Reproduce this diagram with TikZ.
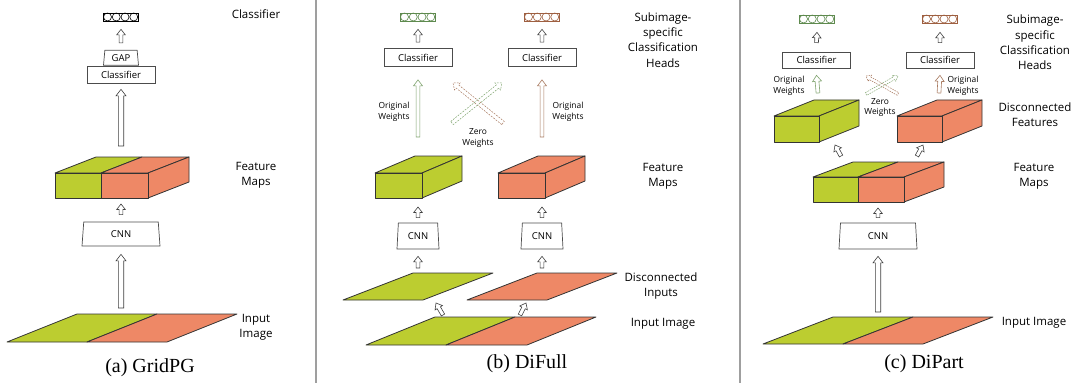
\documentclass[tikz,border=0pt]{standalone}
\usepackage{fontspec}
\setmainfont{Open Sans}
\newfontfamily\capfont{Liberation Serif}
\usetikzlibrary{calc,shapes.geometric}

\definecolor{gridgreen}{HTML}{BCCD30}
\definecolor{gridorange}{HTML}{EE8866}
\definecolor{edge}{HTML}{333333}
\definecolor{headgreen}{HTML}{5E8A4E}
\definecolor{headbrown}{HTML}{9E5F40}
\definecolor{wgreen}{HTML}{7FA36E}
\definecolor{wbrown}{HTML}{A87A60}

\begin{document}
\begin{tikzpicture}[
        x=1pt,   % 1 unit = 1 pixel of the figure
        y=-1pt,  % y grows downwards
        lbl/.style={align=center, inner sep=0pt, font=\fontsize{11.5}{15.3}\selectfont},
        wlbl/.style={align=center, inner sep=0pt, font=\fontsize{8.4}{10.8}\selectfont},
        captext/.style={inner sep=0pt, font=\capfont\fontsize{20}{24}\selectfont},
        clsbox/.style={draw=black!70, line width=0.7pt, minimum width=68pt, minimum height=18pt, inner sep=0pt, font=\fontsize{9.5}{11}\selectfont},
        cnnbox/.style={trapezium, trapezium stretches body=true, draw=black!70, line width=0.7pt, inner sep=0pt, font=\fontsize{9.5}{11}\selectfont},
        vec/.style={draw=#1, line width=0.7pt, minimum width=35pt, minimum height=8pt, inner sep=0pt},
        face/.style={draw=edge, line width=0.8pt, line join=round},
        harrow/.style n args={3}{fill=white, line join=miter,
            to path={let \p1=(\tikztostart), \p2=(\tikztotarget),
                \n1={atan2(\y2-\y1,\x2-\x1)}, \n2={veclen(\x2-\x1,\y2-\y1)} in
                ([shift={(\p1)},rotate=\n1]0pt,#1pt)
                -- ([shift={(\p1)},rotate=\n1]\n2-#3pt,#1pt)
                -- ([shift={(\p1)},rotate=\n1]\n2-#3pt,#2pt)
                -- (\p2)
                -- ([shift={(\p1)},rotate=\n1]\n2-#3pt,-#2pt)
                -- ([shift={(\p1)},rotate=\n1]\n2-#3pt,-#1pt)
                -- ([shift={(\p1)},rotate=\n1]0pt,-#1pt) -- cycle}},
        up/.style={harrow={1.9}{4.3}{5.5}, draw=black!75, line width=0.6pt},
        uplong/.style={harrow={2.7}{5}{6.5}, draw=black!75, line width=0.6pt},
        weights/.style={harrow={1.9}{4.5}{6}, line width=0.6pt},
        zero/.style={harrow={2}{4.5}{5.5}, fill=none, dash pattern=on 1.8pt off 1.2pt, line width=0.5pt},
        zerosmall/.style={harrow={1.5}{3.5}{4.5}, fill=none, dash pattern=on 1.5pt off 1pt, line width=0.5pt},
    ]

    \useasboundingbox (0,0) rectangle (1076,385);

    % Panel separators
    \draw[gray!75, line width=1.2pt] (316,0) -- (316,383);
    \draw[gray!75, line width=1.2pt] (740,0) -- (740,383);

    % ================= (a) GridPG =================
    % Input image
    \filldraw[face, fill=gridgreen] (7,342) -- (87,342) -- (157,314) -- (77,314) -- cycle;
    \filldraw[face, fill=gridorange] (87,342) -- (167,342) -- (237,314) -- (157,314) -- cycle;
    \coordinate (inA) at (121,314);

    % Feature maps
    \filldraw[face, fill=gridgreen] (55,173) -- (96,157) -- (142,157) -- (101,173) -- cycle;
    \filldraw[face, fill=gridorange] (101,173) -- (142,157) -- (189,157) -- (148,173) -- cycle;
    \filldraw[face, fill=gridorange] (148,173) -- (189,157) -- (189,182) -- (148,198) -- cycle;
    \filldraw[face, fill=gridgreen] (55,173) rectangle (101,198);
    \filldraw[face, fill=gridorange] (101,173) rectangle (148,198);
    \coordinate (fmA-top) at (121,157);
    \coordinate (fmA-bot) at (121,198);

    % Network parts
    \node[cnnbox, minimum width=78pt, minimum height=24pt, trapezium left angle=76, trapezium right angle=76] (cnnA) at (121,234) {CNN};
    \node[clsbox, minimum height=17pt] (clsA) at (121,74.5) {Classifier};
    \node[cnnbox, minimum width=35pt, minimum height=15pt, trapezium left angle=79, trapezium right angle=79, anchor=south] (gapA) at (clsA.north) {GAP};
    \node[vec=black] (outA) at (121,17) {};

    % Arrows
    \draw[up] ($(gapA.north)+(0,-7)$) to ($(outA.south)+(0,8)$);
    \draw[uplong] ($(fmA-top)+(0,-11)$) to ($(clsA.south)+(0,6)$);
    \draw[up] ($(cnnA.north)+(0,-7)$) to ($(fmA-bot)+(0,6)$);
    \draw[uplong] ($(inA)+(0,-6)$) to ($(cnnA.south)+(0,8)$);

    % Labels
    \node[lbl] (lblClsA) at (256,14) {Classifier};
    \node[lbl] (lblFmA) at (256,175) {Feature\\Maps};
    \node[lbl] (lblInA) at (256,327) {Input\\Image};
    \node[captext] (capA) at (150,368) {(a) GridPG};

    % ================= (b) DiFull =================
    % Input image
    \filldraw[face, fill=gridgreen] (366,345) -- (446,345) -- (515,317) -- (435,317) -- cycle;
    \filldraw[face, fill=gridorange] (446,345) -- (527,345) -- (596,317) -- (515,317) -- cycle;

    % Disconnected inputs
    \filldraw[face, fill=gridgreen] (343,300) -- (423,300) -- (493,273) -- (413,273) -- cycle;
    \filldraw[face, fill=gridorange] (467,300) -- (547,300) -- (617,273) -- (537,273) -- cycle;
    \coordinate (dinB1) at (418,273);
    \coordinate (dinB2) at (542,273);

    % Split arrows
    \coordinate (splitB1-s) at (443,315);
    \coordinate (splitB1-e) at (436,303);
    \coordinate (splitB2-s) at (520,315);
    \coordinate (splitB2-e) at (526,303);
    \draw[up] (splitB1-s) to (splitB1-e);
    \draw[up] (splitB2-s) to (splitB2-e);

    % Feature maps
    \filldraw[face, fill=gridgreen] (375,173) -- (415,156) -- (462,156) -- (422,173) -- cycle;
    \filldraw[face, fill=gridgreen] (422,173) -- (462,156) -- (462,181) -- (422,198) -- cycle;
    \filldraw[face, fill=gridgreen] (375,173) rectangle (422,198);
    \filldraw[face, fill=gridorange] (498,173) -- (538,156) -- (585,156) -- (545,173) -- cycle;
    \filldraw[face, fill=gridorange] (545,173) -- (585,156) -- (585,181) -- (545,198) -- cycle;
    \filldraw[face, fill=gridorange] (498,173) rectangle (545,198);
    \coordinate (fmB1-top) at (418,156);
    \coordinate (fmB1-bot) at (418,198);
    \coordinate (fmB2-top) at (542,156);
    \coordinate (fmB2-bot) at (542,198);

    % Network parts
    \node[cnnbox, minimum width=42pt, minimum height=26pt, trapezium left angle=79, trapezium right angle=79] (cnnB1) at (418,236) {CNN};
    \node[cnnbox, minimum width=42pt, minimum height=26pt, trapezium left angle=79, trapezium right angle=79] (cnnB2) at (542,236) {CNN};
    \node[clsbox] (clsB1) at (418,57.5) {Classifier};
    \node[clsbox] (clsB2) at (542,57.5) {Classifier};
    \node[vec=headgreen] (outB1) at (418,17) {};
    \node[vec=headbrown] (outB2) at (542,17) {};

    % Arrows
    \draw[up] ($(dinB1)+(0,-5)$) to ($(cnnB1.south)+(0,7)$);
    \draw[up] ($(dinB2)+(0,-5)$) to ($(cnnB2.south)+(0,7)$);
    \draw[up] ($(cnnB1.north)+(0,-5)$) to ($(fmB1-bot)+(0,9)$);
    \draw[up] ($(cnnB2.north)+(0,-5)$) to ($(fmB2-bot)+(0,9)$);
    \draw[weights, draw=wgreen] ($(fmB1-top)+(0,-19)$) to ($(clsB1.south)+(0,13)$);
    \draw[weights, draw=wbrown] ($(fmB2-top)+(0,-19)$) to ($(clsB2.south)+(0,13)$);
    \draw[up] ($(clsB1.north)+(0,-6)$) to ($(outB1.south)+(0,8)$);
    \draw[up] ($(clsB2.north)+(0,-6)$) to ($(outB2.south)+(0,8)$);

    % Zero weights
    \coordinate (zeroB-bl) at (452,123);
    \coordinate (zeroB-br) at (503,123);
    \coordinate (zeroB-tl) at (453,83);
    \coordinate (zeroB-tr) at (502,83);
    \draw[zero, draw=wbrown] (zeroB-br) to (zeroB-tl);
    \draw[zero, draw=wgreen] (zeroB-bl) to (zeroB-tr);

    % Labels
    \node[wlbl] (lblOwB1) at (394,111.5) {Original\\Weights};
    \node[wlbl] (lblOwB2) at (568,111.5) {Original\\Weights};
    \node[wlbl] (lblZwB) at (478,138) {Zero\\Weights};
    \node[lbl] (lblHeadB) at (663,40) {Subimage-\\specific\\Classification\\Heads};
    \node[lbl] (lblFmB) at (663,176) {Feature\\Maps};
    \node[lbl] (lblDinB) at (661,286) {Disconnected\\Inputs};
    \node[lbl] (lblInB) at (663,324) {Input Image};
    \node[captext] (capB) at (527,364) {(b) DiFull};

    % ================= (c) DiPart =================
    % Input image
    \filldraw[face, fill=gridgreen] (763,344) -- (843,344) -- (913,317) -- (833,317) -- cycle;
    \filldraw[face, fill=gridorange] (843,344) -- (923,344) -- (993,317) -- (913,317) -- cycle;
    \coordinate (inC) at (878,317);

    % Feature maps
    \filldraw[face, fill=gridgreen] (813,177) -- (853,162) -- (898,162) -- (858,177) -- cycle;
    \filldraw[face, fill=gridorange] (858,177) -- (898,162) -- (944,162) -- (904,177) -- cycle;
    \filldraw[face, fill=gridorange] (904,177) -- (944,162) -- (944,187) -- (904,202) -- cycle;
    \filldraw[face, fill=gridgreen] (813,177) rectangle (858,202);
    \filldraw[face, fill=gridorange] (858,177) rectangle (904,202);
    \coordinate (fmC-bot) at (878,202);

    % Disconnected features
    \filldraw[face, fill=gridgreen] (774,116) -- (814,100) -- (859,100) -- (819,116) -- cycle;
    \filldraw[face, fill=gridgreen] (819,116) -- (859,100) -- (859,126) -- (819,142) -- cycle;
    \filldraw[face, fill=gridgreen] (774,116) rectangle (819,142);
    \filldraw[face, fill=gridorange] (897,116) -- (937,100) -- (982,100) -- (942,116) -- cycle;
    \filldraw[face, fill=gridorange] (942,116) -- (982,100) -- (982,126) -- (942,142) -- cycle;
    \filldraw[face, fill=gridorange] (897,116) rectangle (942,142);
    \coordinate (dfC1-top) at (818,100);
    \coordinate (dfC2-top) at (939,100);

    % Split arrows
    \coordinate (splitC1-s) at (841,156);
    \coordinate (splitC1-e) at (835,145);
    \coordinate (splitC2-s) at (917,156);
    \coordinate (splitC2-e) at (923,145);
    \draw[up] (splitC1-s) to (splitC1-e);
    \draw[up] (splitC2-s) to (splitC2-e);

    % Network parts
    \node[cnnbox, minimum width=78pt, minimum height=26pt, trapezium left angle=78, trapezium right angle=78] (cnnC) at (878,236) {CNN};
    \node[clsbox, minimum height=16pt] (clsC1) at (816.5,60) {Classifier};
    \node[clsbox, minimum height=16pt] (clsC2) at (940,60) {Classifier};
    \node[vec=headgreen] (outC1) at (817,19) {};
    \node[vec=headbrown] (outC2) at (940,19) {};

    % Arrows
    \draw[uplong] ($(inC)+(0,-5)$) to ($(cnnC.south)+(0,7)$);
    \draw[up] ($(cnnC.north)+(0,-5)$) to ($(fmC-bot)+(0,6)$);
    \draw[weights, draw=wgreen] ($(dfC1-top)+(0,-7)$) to ($(clsC1.south)+(0,7)$);
    \draw[weights, draw=wbrown] ($(dfC2-top)+(0,-7)$) to ($(clsC2.south)+(0,7)$);
    \draw[up] ($(clsC1.north)+(0,-9)$) to ($(outC1.south)+(0,9)$);
    \draw[up] ($(clsC2.north)+(0,-9)$) to ($(outC2.south)+(0,9)$);

    % Zero weights
    \coordinate (zeroC-bl) at (866,94);
    \coordinate (zeroC-br) at (898,94);
    \coordinate (zeroC-tl) at (866,76);
    \coordinate (zeroC-tr) at (898,76);
    \draw[zerosmall, draw=wbrown] (zeroC-br) to (zeroC-tl);
    \draw[zerosmall, draw=wgreen] (zeroC-bl) to (zeroC-tr);

    % Labels
    \node[wlbl] (lblOwC1) at (789,86) {Original\\Weights};
    \node[wlbl] (lblOwC2) at (963,86) {Original\\Weights};
    \node[wlbl] (lblZwC) at (880,107.5) {Zero\\Weights};
    \node[lbl] (lblHeadC) at (1035,42.5) {Subimage-\\specific\\Classification\\Heads};
    \node[lbl] (lblDfC) at (1035,115) {Disconnected\\Features};
    \node[lbl] (lblFmC) at (1034,176) {Feature\\Maps};
    \node[lbl] (lblInC) at (1034,323) {Input Image};
    \node[captext] (capC) at (924,364) {(c) DiPart};

    % Output vectors: four units each
    \foreach \v/\c in {outA/black, outB1/headgreen, outB2/headbrown, outC1/headgreen, outC2/headbrown} {
        \foreach \i in {0,...,3} {
            \draw[\c, line width=0.6pt] ($(\v.west)+(4.375+8.75*\i,0)$) circle[radius=4pt];
        }
    }

\end{tikzpicture}
\end{document}
